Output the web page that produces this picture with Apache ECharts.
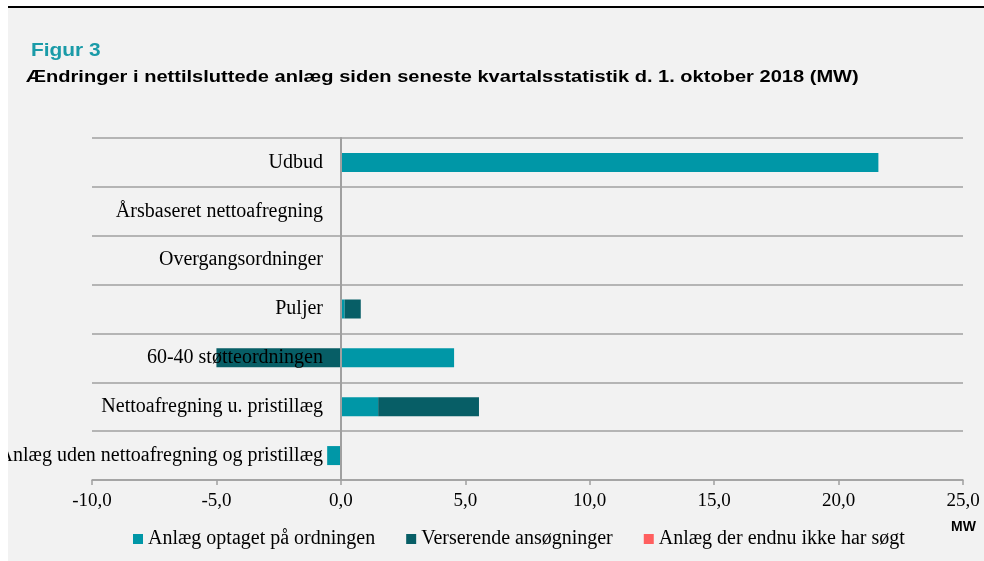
<!DOCTYPE html>
<html lang="da">
<head>
    <meta charset="UTF-8">
    <script src="https://cdn.jsdelivr.net/npm/echarts@6/dist/echarts.min.js"></script>
    <title>Figur 3</title>
    <style>
        body { margin: 0; background: #fff; }
        #topline { position: absolute; left: 8px; top: 6px; width: 976px; height: 2px; background: #000; }
        #chart { position: absolute; left: 8px; top: 8px; width: 976px; height: 553px; }
    </style>
</head>
<body>
    <div id="topline"></div>
    <div id="chart"></div>
    <script type="text/javascript">
        // categories listed top -> bottom (yAxis is inverted)
        var categories = [
            'Udbud',
            'Årsbaseret nettoafregning',
            'Overgangsordninger',
            'Puljer',
            '60-40 støtteordningen',
            'Nettoafregning u. pristillæg',
            'Anlæg uden nettoafregning og pristillæg'
        ];
        var optaget = [21.6, 0, 0, 0.15, 4.55, 1.5, -0.55];
        var verserende = [0, 0, 0, 0.65, -5.0, 4.05, 0];
        var ikkeSoegt = [0, 0, 0, 0, 0, 0, 0];
        var seriesNames = ['Anlæg optaget på ordningen', 'Verserende ansøgninger', 'Anlæg der endnu ikke har søgt'];

        var serif = 'Liberation Serif';
        var chart = echarts.init(document.getElementById('chart'));
        var option = {
            backgroundColor: '#f2f2f2',
            animation: false,
            // titles as graphic text, stretched a bit to match the original width
            graphic: [
                {
                    type: 'text', x: 23, y: 33, scaleX: 1.1,
                    style: { text: 'Figur 3', font: 'bold 19px "Liberation Sans"', fill: '#1a9ba8', textVerticalAlign: 'top' }
                },
                {
                    type: 'text', x: 18, y: 61, scaleX: 1.18,
                    style: {
                        text: 'Ændringer i nettilsluttede anlæg siden seneste kvartalsstatistik d. 1. oktober 2018 (MW)',
                        font: 'bold 17px "Liberation Sans"', fill: '#000', textVerticalAlign: 'top'
                    }
                },
                {
                    type: 'text', right: 8, top: 512,
                    style: { text: 'MW', font: 'bold 14px "Liberation Sans"', fill: '#000' }
                }
            ],
            grid: { left: 84, right: 21, top: 130, bottom: 81, outerBoundsMode: 'none', containLabel: false },
            legend: {
                left: 120, top: 516,
                icon: 'rect', itemWidth: 10, itemHeight: 10, itemGap: 31,
                textStyle: { fontFamily: serif, fontSize: 20, color: '#000' },
                data: seriesNames
            },
            xAxis: {
                type: 'value', min: -10, max: 25, interval: 5,
                axisLine: { show: true, lineStyle: { color: '#a0a0a0', width: 1.5 } },
                axisTick: { show: true, length: 5, lineStyle: { color: '#a0a0a0', width: 1.5 } },
                splitLine: { show: false },
                axisLabel: {
                    margin: 12, color: '#000', fontFamily: serif, fontSize: 19,
                    formatter: function (v) { return v.toFixed(1).replace('.', ','); }
                }
            },
            yAxis: {
                type: 'category', data: categories, inverse: true, z: 10,
                axisLine: { show: true, onZero: true, lineStyle: { color: '#a0a0a0', width: 2 } },
                axisTick: { show: false },
                splitLine: { show: true, lineStyle: { color: '#a0a0a0', width: 1.5 } },
                // labels sit next to the zero line, not at the grid edge
                axisLabel: { margin: -231, interval: 0, color: '#000', fontFamily: serif, fontSize: 20 }
            },
            series: [
                { name: seriesNames[0], type: 'bar', stack: 'a', barWidth: 19, data: optaget, itemStyle: { color: '#0097a7' } },
                { name: seriesNames[1], type: 'bar', stack: 'a', barWidth: 19, data: verserende, itemStyle: { color: '#075e66' } },
                { name: seriesNames[2], type: 'bar', stack: 'a', barWidth: 19, data: ikkeSoegt, itemStyle: { color: '#ff5f5f' } }
            ]
        };
        chart.setOption(option);
    </script>
</body>
</html>
